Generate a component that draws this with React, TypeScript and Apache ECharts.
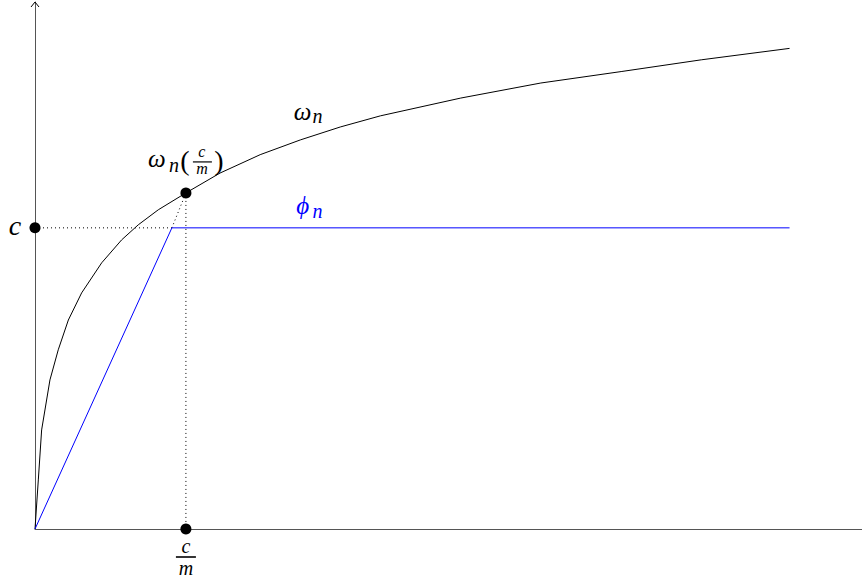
import React, { useEffect, useRef } from "react";
import * as echarts from "echarts";

// ω_n curve samples (x in units of c/m, y in units of c)
const omegaX = [0, 0.022, 0.044, 0.099, 0.154, 0.221, 0.309, 0.442, 0.574, 0.684, 0.817, 1.0, 1.226, 1.492, 1.758, 2.023, 2.289, 2.821, 3.352, 3.884, 4.415, 5.0];
const omegaY = [0, 0.163, 0.329, 0.495, 0.595, 0.694, 0.784, 0.884, 0.96, 1.01, 1.06, 1.116, 1.182, 1.243, 1.292, 1.335, 1.372, 1.431, 1.481, 1.519, 1.558, 1.596];
// φ_n piecewise linear
const phiX = [0, 0.907, 5.0];
const phiY = [0, 1, 1];
// marked points
const cLevel = 1;
const cOverM = 1;
const omegaAtCM = 1.116;
const kinkX = 0.907;
const xMax = 5.48;
const yMax = 1.75;

const FAMILY = "Liberation Serif";

export default function App() {
  const ref = useRef<HTMLDivElement>(null);
  useEffect(() => {
    document.body.style.margin = "0";
    const chart = echarts.init(ref.current!, null, { renderer: "svg" });
    const dotted = { color: "#000", width: 1, type: [1, 3] as any };
    chart.setOption({
      animation: false,
      textStyle: { fontFamily: FAMILY },
      grid: { left: 35, right: 0, top: 2, bottom: 50 },
      xAxis: {
        type: "value", min: 0, max: xMax,
        axisLine: { show: true, lineStyle: { color: "#555", width: 1 } },
        axisTick: { show: false }, axisLabel: { show: false }, splitLine: { show: false },
      },
      yAxis: {
        type: "value", min: 0, max: yMax,
        axisLine: { show: true, lineStyle: { color: "#555", width: 1 } },
        axisTick: { show: false }, axisLabel: { show: false }, splitLine: { show: false },
      },
      series: [
        { type: "line", data: [[0, cLevel], [kinkX, cLevel]], symbol: "none", lineStyle: dotted, silent: true },
        { type: "line", data: [[kinkX, cLevel], [cOverM, omegaAtCM]], symbol: "none", lineStyle: dotted, silent: true },
        { type: "line", data: [[cOverM, omegaAtCM], [cOverM, 0]], symbol: "none", lineStyle: dotted, silent: true },
        {
          type: "line", name: "omega", data: omegaX.map((x, i) => [x, omegaY[i]]),
          symbol: "none", smooth: false, lineStyle: { color: "#000", width: 1 },
        },
        {
          type: "line", name: "phi", data: phiX.map((x, i) => [x, phiY[i]]),
          symbol: "none", lineStyle: { color: "#0000ff", width: 1 },
        },
        {
          type: "scatter", data: [[0, cLevel], [cOverM, omegaAtCM], [cOverM, 0]],
          symbolSize: 11, itemStyle: { color: "#000", opacity: 1 }, z: 5,
        },
      ],
    });
    const px = (x: number, y: number) => chart.convertToPixel({ gridIndex: 0 }, [x, y]) as number[];
    const txt = (text: string, x: number, y: number, size: number, opts: any = {}) => ({
      type: "text", x, y, z: 10,
      style: {
        text,
        fontFamily: FAMILY,
        fontStyle: opts.upright ? "normal" : "italic",
        fontSize: size,
        fill: opts.fill || "#000", align: "center", verticalAlign: "middle",
      },
    });
    const bar = (x1: number, x2: number, y: number, w: number) => ({
      type: "line", z: 10, shape: { x1, y1: y, x2, y2: y }, style: { stroke: "#000", lineWidth: w },
    });
    const A = px(cOverM, 0);
    const B = px(cOverM, omegaAtCM);
    const C = px(0, cLevel);
    const W = px(1.78, 1.38);
    const P = px(1.78, 1.07);
    const top = px(0, yMax);
    chart.setOption({
      graphic: [
        // y-axis arrow
        {
          type: "polyline", z: 10,
          shape: { points: [[top[0] - 4, top[1] + 5], [top[0], top[1]], [top[0] + 4, top[1] + 5]] },
          style: { stroke: "#000", lineWidth: 1, fill: "none" },
        },
        // c label
        txt("c", C[0] - 20, C[1] - 2, 28),
        // c/m on x-axis
        txt("c", A[0], A[1] + 17, 20),
        bar(A[0] - 10, A[0] + 10, A[1] + 28, 1.6),
        txt("m", A[0], A[1] + 39, 20),
        // ω_n(c/m)
        txt("ω", B[0] - 29, B[1] - 34, 25),
        txt("n", B[0] - 12, B[1] - 28, 20),
        txt("(", B[0] - 1, B[1] - 32, 28, { upright: true }),
        txt("c", B[0] + 16, B[1] - 41, 16),
        bar(B[0] + 7, B[0] + 26, B[1] - 31, 1.2),
        txt("m", B[0] + 16, B[1] - 24, 16),
        txt(")", B[0] + 33, B[1] - 32, 28, { upright: true }),
        // ω_n label
        txt("ω", W[0] - 1, W[1] - 2, 25),
        txt("n", W[0] + 14, W[1] + 3, 20),
        // φ_n label
        txt("ϕ", P[0] - 1, P[1] - 1, 25, { fill: "#0000ff" }),
        txt("n", P[0] + 14, P[1] + 4, 20, { fill: "#0000ff" }),
      ],
    });
    return () => chart.dispose();
  }, []);
  return <div ref={ref} style={{ width: 862, height: 579 }} />;
}
